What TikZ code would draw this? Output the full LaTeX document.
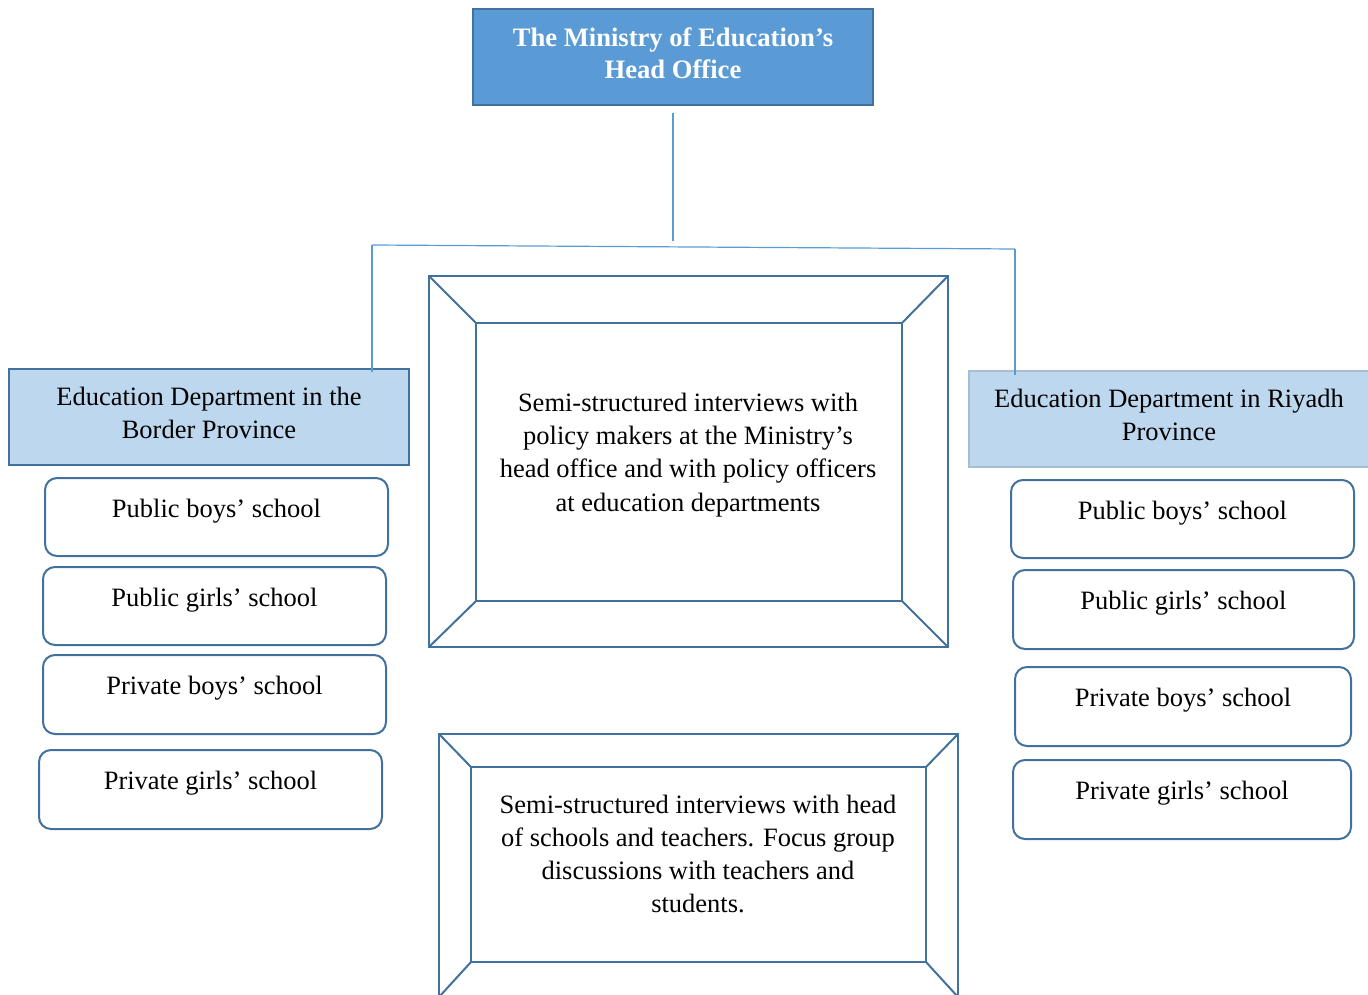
\documentclass[tikz,border=0pt]{standalone}
\usepackage{fontspec}
\setmainfont{Liberation Serif}
\usetikzlibrary{calc}
\definecolor{headfill}{HTML}{5B9BD5}
\definecolor{edge}{HTML}{41719C}
\definecolor{deptfill}{HTML}{BDD7EE}
\definecolor{paleedge}{HTML}{A8BCD2}
\definecolor{linkc}{HTML}{5B9BD5}
\tikzset{
  box/.style={draw=edge, line width=1pt, inner sep=0pt, outer sep=0pt, align=center,
              font=\fontsize{13.25}{16.5}\selectfont},
  headbox/.style={box, fill=headfill},
  deptbox/.style={box, fill=deptfill},
  school/.style={box, fill=white, rounded corners=6pt, text height=9pt, text depth=9pt},
  bevel/.style={draw=edge, line width=1pt},
  linkline/.style={draw=linkc, line width=0.6pt},
  txt/.style={align=center, inner sep=0pt, font=\fontsize{13.25}{16.6}\selectfont},
  headtxt/.style={txt, text=white, font=\bfseries\fontsize{13.3}{16}\selectfont}
}
\begin{document}
\begin{tikzpicture}[x=0.5pt, y=-0.5pt]
\path[use as bounding box] (0,0) rectangle (1368,994);

% head office
\node[headbox, minimum width=200pt, minimum height=48pt] (top) at (673,57) {};
\node[headtxt] (topt) at (673,53) {The Ministry of Education’s\\Head Office};

% education departments
\node[deptbox, minimum width=200pt, minimum height=48pt] (ld) at (209,417) {};
\node[txt] (ldt) at (209,413) {Education Department in the\\Border Province};
\node[deptbox, draw=paleedge, minimum width=201.5pt, minimum height=48pt] (rd) at (1170.5,419) {};
\node[txt] (rdt) at (1169,415) {Education Department in Riyadh\\Province};

% schools, left column
\node[school, minimum width=171.5pt, minimum height=39pt]   (l1) at (216.5,517)   {Public boys’ school};
\node[school, minimum width=171.5pt, minimum height=39pt]   (l2) at (214.5,606)   {Public girls’ school};
\node[school, minimum width=171.5pt, minimum height=39.5pt] (l3) at (214.5,694.5) {Private boys’ school};
\node[school, minimum width=171.5pt, minimum height=39.5pt] (l4) at (210.5,789.5) {Private girls’ school};

% schools, right column
\node[school, minimum width=171.5pt, minimum height=39pt]   (r1) at (1182.5,519)  {Public boys’ school};
\node[school, minimum width=170.5pt, minimum height=39.5pt] (r2) at (1183.5,609.5){Public girls’ school};
\node[school, minimum width=168pt,   minimum height=39.5pt] (r3) at (1183,706.5)  {Private boys’ school};
\node[school, minimum width=169pt,   minimum height=39.5pt] (r4) at (1182,799.5)  {Private girls’ school};

% bevelled frame: policy level
\node[box, minimum width=213pt, minimum height=139pt] (f1) at (689,462) {};
\coordinate (f1a) at (429,276);
\coordinate (f1b) at (948,647);
\draw[bevel] (f1a) rectangle (f1b);
\draw[bevel] (f1a) -- (f1.north west);
\draw[bevel] (f1a -| f1b) -- (f1.north east);
\draw[bevel] (f1a |- f1b) -- (f1.south west);
\draw[bevel] (f1b) -- (f1.south east);
\node[txt] (f1t) at (688,455) {Semi-structured interviews with\\policy makers at the Ministry’s\\head office and with policy officers\\at education departments};

% bevelled frame: school level
\node[box, minimum width=227.5pt, minimum height=97.5pt] (f2) at (698.5,864.5) {};
\coordinate (f2a) at (439,734);
\coordinate (f2b) at (958,997);
\draw[bevel] (f2a) rectangle (f2b);
\draw[bevel] (f2a) -- (f2.north west);
\draw[bevel] (f2a -| f2b) -- (f2.north east);
\draw[bevel] (f2a |- f2b) -- (f2.south west);
\draw[bevel] (f2b) -- (f2.south east);
\node[txt] (f2t) at (698,854) {Semi-structured interviews with head\\of schools and teachers. Focus group\\discussions with teachers and\\students.};

% connectors
\coordinate (hub) at (673,241);
\coordinate (lj) at (372,245);
\coordinate (rj) at (1015,249);
\draw[linkline] ($(top.south)+(0,8)$) -- (hub);
\draw[linkline] (lj) -- (rj);
\draw[linkline] (lj) -- ($(lj |- ld.north)+(0,3)$);
\draw[linkline] (rj) -- ($(rj |- rd.north)+(0,4)$);
\end{tikzpicture}
\end{document}
